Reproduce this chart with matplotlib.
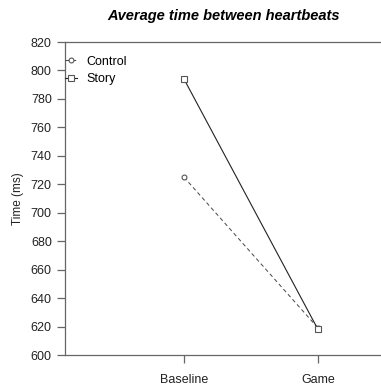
import numpy as np
import matplotlib
matplotlib.use('Agg')
import matplotlib.pyplot as plt

plt.rcParams['font.family'] = ['Liberation Sans', 'DejaVu Sans']

conditions = ['Baseline', 'Game']
control = [725, 619]
story = [794, 618]
y_ticks = [600, 620, 640, 660, 680, 700, 720, 740, 760, 780, 800, 820]

fig = plt.figure(figsize=(3.81, 3.88), dpi=100)
ax = fig.add_axes([0.1706, 0.085, 0.85, 0.8067])

x = np.arange(1, len(conditions) + 1)
ax.plot(x, control, color='#444444', linestyle=(0, (4, 3)), linewidth=0.7,
        marker='o', markersize=3.5, markerfacecolor='white',
        markeredgecolor='#555555', markeredgewidth=0.8, label='Control')
ax.plot(x, story, color='#222222', linestyle='-', linewidth=0.8,
        marker='s', markersize=4, markerfacecolor='white',
        markeredgecolor='#555555', markeredgewidth=0.8, label='Story')

# axes run past the right edge of the figure, like the original crop
ax.set_xlim(0.112, 2.529)
ax.set_ylim(600, 820)
ax.set_xticks(x)
ax.set_xticklabels(conditions)
ax.set_yticks(y_ticks)

for s in ['left', 'top', 'bottom', 'right']:
    ax.spines[s].set_color('#666666')
    ax.spines[s].set_linewidth(0.9)

ax.tick_params(axis='both', colors='#666666', labelcolor='#222222',
               labelsize=9, length=6, width=0.9)
ax.tick_params(axis='x', pad=8)

ax.set_ylabel('Time (ms)', fontsize=8.5, color='#222222', labelpad=5)
ax.set_title('Average time between heartbeats', fontsize=10.5,
             fontweight='bold', style='italic', pad=16, x=0.49)

ax.legend(loc='upper left', bbox_to_anchor=(0.0, 0.956), frameon=False,
          fontsize=9, handlelength=1.0, handletextpad=0.7,
          borderaxespad=0.0, borderpad=0.0, labelspacing=0.45)

fig.savefig('out.png', dpi=100)
